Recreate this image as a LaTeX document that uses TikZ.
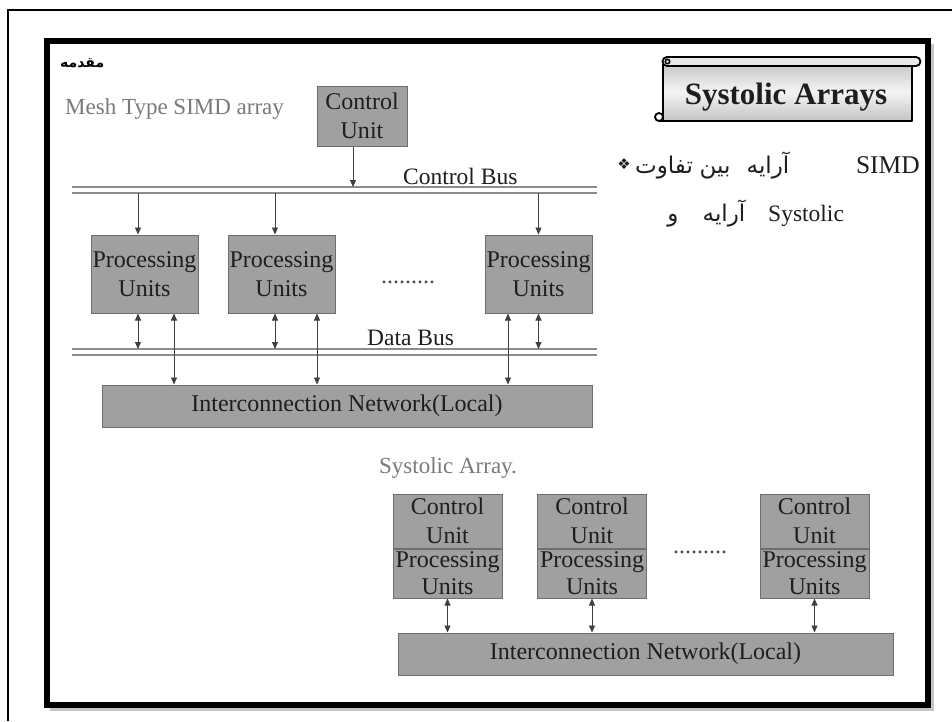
\documentclass[tikz,border=0pt]{standalone}
\usepackage{fontspec}
\setmainfont{Liberation Serif}
\newfontfamily\arabicfont[Script=Arabic]{DejaVu Sans}
\newfontfamily\symfont{DejaVu Sans}
\TeXXeTstate=1
\usetikzlibrary{arrows.meta,calc}
\definecolor{boxgray}{HTML}{A0A0A0}
\definecolor{boxedge}{HTML}{6E6E6E}
\definecolor{busgray}{HTML}{8C8C8C}
\definecolor{labelgray}{HTML}{7A7A7A}
\definecolor{inkc}{HTML}{1E1E1E}
\definecolor{scrolledge}{HTML}{C4C4C4}
\definecolor{scrollmid}{HTML}{F4F4F4}
\begin{document}
\begin{tikzpicture}[x=1pt,y=-1pt,
  gbox/.style={draw=boxedge, fill=boxgray, line width=1pt, inner sep=0pt, align=center, text=inkc, font=\fontsize{24}{29}\selectfont},
  lbl/.style={inner sep=0pt, text=inkc, font=\fontsize{23.5}{28}\selectfont},
  glbl/.style={inner sep=0pt, text=labelgray, font=\fontsize{23}{28}\selectfont},
  dots/.style={inner sep=0pt, text=inkc!80, font=\fontsize{24}{28}\selectfont},
  bus/.style={draw=busgray, line width=1.4pt},
  arr/.style={draw=inkc!85, line width=0.9pt, -{Triangle[width=6pt,length=7pt]}},
  darr/.style={draw=inkc!85, line width=0.9pt, {Triangle[width=6pt,length=7pt]}-{Triangle[width=6pt,length=7pt]}},
  fa/.style={inner sep=0pt, text=inkc, font=\arabicfont\fontsize{23}{26}\selectfont},
  la/.style={inner sep=0pt, text=inkc, font=\fontsize{25.5}{28}\selectfont},
]
\useasboundingbox (0,0) rectangle (952,721);
\fill[white] (0,0) rectangle (952,721);
% outer thin frame
\draw[line width=2pt] (8,721) -- (8,10) -- (952,10);
% thick frame with light shadow
\draw[gray!45, line width=6.5pt] (50,708) -- (931,708) -- (931,44);
\draw[black, line width=6.5pt] (47,41) rectangle (928,705);

% title words
\node[anchor=west, inner sep=0pt, text=black, font=\arabicfont\bfseries\fontsize{14}{16}\selectfont] (intro) at (60,63) {\beginR مقدمه\endR};
\node[glbl, anchor=base west] (meshlbl) at (65,114) {Mesh Type SIMD array};

% scroll banner
\shade[top color=scrolledge, bottom color=scrolledge, middle color=scrollmid]
  (663,62) rectangle (912,121);
\draw[line width=1.8pt, line join=round] (663,64) -- (663,121) -- (912,121) -- (912,64);
\filldraw[fill=scrollmid!90!gray, line width=1.8pt] (667,57) -- (916,57)
  arc[start angle=90, end angle=-90, radius=4.5pt] -- (667,66)
  arc[start angle=-90, end angle=-270, radius=4.5pt] -- cycle;
\draw[line width=1.5pt] (667.5,61.5) circle[radius=2.2pt];
\filldraw[fill=white, line width=1.8pt] (659,117) circle[radius=4pt];
\draw[line width=1.8pt] (659,121) -- (663,121);
\node[anchor=base, inner sep=0pt, text=inkc, font=\bfseries\fontsize{31}{34}\selectfont] (banner) at (786,104) {Systolic Arrays};

% right-hand text
\node[inner sep=0pt, text=inkc, font=\symfont\fontsize{15}{16}\selectfont] (bul) at (624,164) {❖};
\node[fa, anchor=base] (w1) at (664,173) {\beginR تفاوت\endR};
\node[fa, anchor=base] (w2) at (715,173) {\beginR بین\endR};
\node[fa, anchor=base] (w3) at (768,173) {\beginR آرایه\endR};
\node[la, anchor=base east] (simd) at (920,173) {SIMD};
\node[fa, anchor=base] (w4) at (673,221) {\beginR و\endR};
\node[fa, anchor=base] (w5) at (724,221) {\beginR آرایه\endR};
\node[la, anchor=base west, font=\fontsize{23.5}{28}\selectfont] (sysw) at (768,221) {Systolic};

% ---------- Mesh type SIMD array ----------
\node[gbox, minimum width=90pt, minimum height=60pt] (cu) at (362,116) {Control\\Unit};

\coordinate (cbtop) at (0,187);
\coordinate (cbbot) at (0,193);
\coordinate (dbtop) at (0,349);
\draw[bus] (72,187) -- (597,187);
\draw[bus] (72,193) -- (597,193);
\draw[bus] (72,349) -- (597,349);
\draw[bus] (72,355) -- (597,355);

\node[lbl, anchor=base west] (cbus) at (403,184) {Control Bus};
\node[lbl, anchor=base west] (dbus) at (367,345) {Data Bus};

\draw[arr] ([xshift=-9pt]cu.south) -- ([xshift=-9pt]cu.south |- cbtop);

\node[gbox, minimum width=107pt, minimum height=78pt] (pu1) at (144.5,274) {Processing\\Units};
\node[gbox, minimum width=107pt, minimum height=78pt] (pu2) at (281.5,274) {Processing\\Units};
\node[gbox, minimum width=107pt, minimum height=78pt] (pu3) at (538.5,274) {Processing\\Units};
\node[dots, anchor=base west] (mdots) at (381,283) {.........};

\node[gbox, minimum width=490pt, minimum height=42pt] (net1) at (347,406) {Interconnection Network(Local)};

\draw[arr] ([xshift=-6.5pt]pu1.north |- cbbot) -- ([xshift=-6.5pt]pu1.north);
\draw[arr] ([xshift=-6.5pt]pu2.north |- cbbot) -- ([xshift=-6.5pt]pu2.north);
\draw[arr] ([xshift=0pt]pu3.north |- cbbot) -- ([xshift=0pt]pu3.north);

\draw[darr] ([xshift=-6.5pt]pu1.south) -- ([xshift=-6.5pt]pu1.south |- dbtop);
\draw[darr] ([xshift=-6.5pt]pu2.south) -- ([xshift=-6.5pt]pu2.south |- dbtop);
\draw[darr] ([xshift=0pt]pu3.south) -- ([xshift=0pt]pu3.south |- dbtop);

\draw[darr] ([xshift=29.5pt]pu1.south) -- ([xshift=29.5pt]pu1.south |- net1.north);
\draw[darr] ([xshift=35.5pt]pu2.south) -- ([xshift=35.5pt]pu2.south |- net1.north);
\draw[darr] ([xshift=-30.5pt]pu3.south) -- ([xshift=-30.5pt]pu3.south |- net1.north);

% ---------- Systolic array ----------
\node[glbl, anchor=base west] (syslbl) at (379,473) {Systolic Array.};

\foreach \i/\x in {1/447.5, 2/592, 3/814.5} {
  \node[gbox, minimum width=109pt, minimum height=54pt] (scu\i) at (\x,521) {Control\\Unit};
  \node[gbox, minimum width=109pt, minimum height=49pt, anchor=north, font=\fontsize{24}{27}\selectfont] (spu\i) at (scu\i.south) {Processing\\Units};
}
\node[dots, anchor=base west] (sdots) at (673,553) {.........};

\node[gbox, minimum width=495pt, minimum height=42pt] (net2) at (645.5,654) {Interconnection Network(Local)};

\draw[darr] (spu1.south) -- (spu1.south |- net2.north);
\draw[darr] (spu2.south) -- (spu2.south |- net2.north);
\draw[darr] (spu3.south) -- (spu3.south |- net2.north);
\end{tikzpicture}
\end{document}
